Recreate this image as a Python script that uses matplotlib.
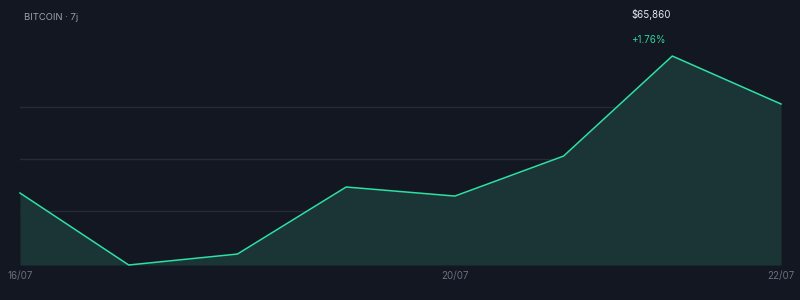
import matplotlib
matplotlib.use("Agg")
import matplotlib.pyplot as plt

plt.rcParams['font.family'] = ['Inter', 'DejaVu Sans']

# Data
days = [0, 1, 2, 3, 4, 5, 6, 7]
prices = [64721, 63800, 63940, 64798, 64682, 65194, 66474, 65860]
tick_positions = [0, 4, 7]
tick_labels = ["16/07", "20/07", "22/07"]
grid_values = [64490, 65156, 65822]
title = "BITCOIN · 7j"
price_label = "$65,860"
change_label = "+1.76%"

BG = "#131722"
LINE = "#2ee0a4"
FILL = "#1b3536"
GRID = "#272b35"

fig = plt.figure(figsize=(8, 3), dpi=100, facecolor=BG)
ax = fig.add_axes([20/800, 35/300, 761/800, 265/300])
ax.set_facecolor(BG)
ymin = min(prices)
ax.set_ylim(ymin, 67191)
ax.set_xlim(days[0], days[-1])

for g in grid_values:
    ax.axhline(g, color=GRID, lw=1, zorder=0)

ax.fill_between(days, prices, ymin, color=FILL, lw=0, zorder=1)
ax.plot(days, prices, color=LINE, lw=1.1, zorder=2, clip_on=False)

for s in ax.spines.values():
    s.set_visible(False)
ax.set_yticks([])
ax.set_xticks(tick_positions)
ax.set_xticklabels(tick_labels)
ax.tick_params(axis='x', length=0, pad=4, labelsize=7, labelcolor="#6b7080")

fig.text(24/800, 1 - 18/300, title, color="#9ba1b0", fontsize=6.8, va='center', ha='left')
fig.text(631/800, 1 - 14/300, price_label, color="#e4e6eb", fontsize=7, va='center', ha='left')
fig.text(631/800, 1 - 40/300, change_label, color="#34d399", fontsize=7, va='center', ha='left')

fig.savefig("out.png", dpi=100, facecolor=BG)
